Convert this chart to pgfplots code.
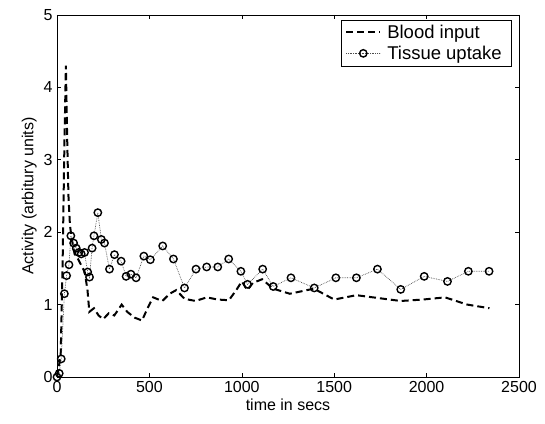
\documentclass[border=0pt]{standalone}
\usepackage{pgfplots}
\pgfplotsset{compat=1.18}
\usepackage{fontspec}
\setmainfont{Liberation Sans}
\begin{document}
\begin{tikzpicture}[x=1pt,y=1pt]
\useasboundingbox (-57,-46) rectangle (488,377);
\begin{axis}[
  at={(0,0)}, anchor=south west,
  scale only axis, width=462pt, height=362pt,
  xmin=0, xmax=2500, ymin=0, ymax=5,
  xtick={0,500,1000,1500,2000,2500},
  ytick={0,1,2,3,4,5},
  tick align=inside, major tick length=4pt,
  tick style={black, line width=0.6pt},
  axis line style={line width=0.8pt},
  /pgf/number format/assume math mode=true,
  /pgf/number format/1000 sep={},
  ticklabel style={font=\fontsize{16}{18}\selectfont},
  xticklabel style={yshift=-1pt},
  yticklabel style={xshift=-1pt},
  xlabel={time in secs},
  ylabel={Activity (arbitury units)},
  label style={font=\fontsize{16}{18}\selectfont},
  xlabel style={yshift=1pt},
  ylabel style={yshift=0pt},
  legend style={at={(0.985,0.987)}, anchor=north east, font=\fontsize{18.5}{21}\selectfont,
    draw=black, line width=0.6pt, inner xsep=4pt, inner ysep=3pt, row sep=2pt,
    legend cell align=left,
    nodes={inner xsep=6pt}},
  legend image code/.code={
    \draw[#1] (0pt,0pt) -- (34pt,0pt);
    \path[#1, draw=none] plot coordinates {(17pt,0pt)};},
]
\addplot[black, line width=2pt, dash pattern=on 7pt off 4pt] coordinates {
(0,0) (20,0.3) (30,1.5) (40,3.2) (48,4.3) (55,3.3) (62,2.5) (70,2.1) (80,1.9)
(95,1.7) (110,1.65) (130,1.55) (150,1.45) (165,1.2) (175,0.9) (200,0.95)
(225,0.85) (250,0.8) (280,0.88) (310,0.85) (350,1.0) (380,0.9) (420,0.82)
(460,0.78) (490,0.95) (520,1.1) (570,1.05) (610,1.15) (645,1.2) (690,1.08)
(750,1.05) (810,1.1) (870,1.07) (930,1.06) (970,1.2) (1000,1.32) (1030,1.2)
(1060,1.3) (1110,1.35) (1170,1.22) (1260,1.15) (1390,1.22) (1500,1.07)
(1620,1.13) (1740,1.09) (1860,1.05) (1980,1.07) (2100,1.1) (2220,1.0) (2340,0.95)
};
\addlegendentry{Blood input}
\addplot[black!70, line width=0.7pt, densely dotted, mark=o,
  mark options={solid, black, line width=1.4pt}, mark size=3.7pt] coordinates {
(0,0) (12,0.05) (23,0.25) (40,1.15) (52,1.4) (65,1.55) (75,1.95) (90,1.85)
(104,1.78) (118,1.72) (131,1.70) (149,1.72) (166,1.45) (176,1.38) (190,1.78)
(200,1.95) (221,2.27) (240,1.9) (257,1.85) (284,1.49) (311,1.69) (347,1.6)
(374,1.39) (400,1.42) (428,1.37) (470,1.67) (505,1.62) (572,1.81) (630,1.63)
(690,1.23) (752,1.49) (810,1.52) (870,1.52) (929,1.63) (995,1.46) (1031,1.28)
(1113,1.49) (1170,1.25) (1266,1.37) (1392,1.23) (1509,1.37) (1620,1.37)
(1734,1.49) (1860,1.21) (1987,1.39) (2113,1.32) (2226,1.46) (2338,1.46)
};
\addlegendentry{Tissue uptake}
\end{axis}
\end{tikzpicture}
\end{document}
